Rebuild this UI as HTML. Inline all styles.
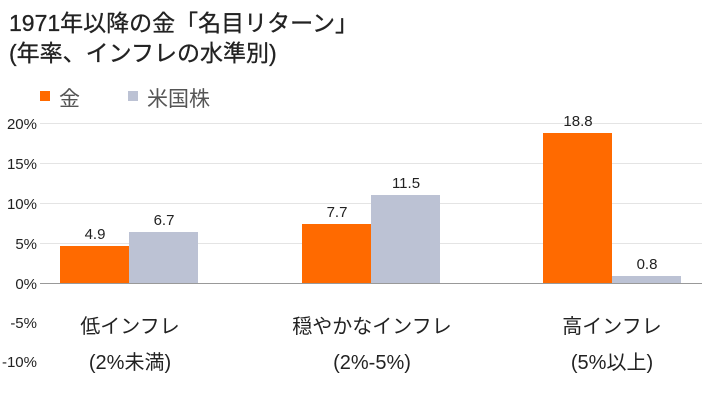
<!DOCTYPE html>
<html><head><meta charset="utf-8"><style>
body{margin:0;background:#fff;}
svg{display:block;font-family:"Liberation Sans","Noto Sans CJK JP",sans-serif;}
</style></head><body>
<svg width="702" height="408" viewBox="0 0 702 408" xmlns="http://www.w3.org/2000/svg">
<text x="9" y="31" font-size="23" fill="#222" stroke="#222" stroke-width="0.3">1971年以降の金「名目リターン」</text>
<text x="9" y="61" font-size="23" fill="#222" stroke="#222" stroke-width="0.3">(年率、インフレの水準別)</text>
<rect x="40" y="91" width="10" height="10" fill="#ff6a00"/>
<text x="59" y="106" font-size="21" fill="#555">金</text>
<rect x="128" y="91" width="10" height="10" fill="#bcc2d4"/>
<text x="147" y="106" font-size="21" fill="#555">米国株</text>
<g stroke="#e4e4e4" stroke-width="1">
<line x1="40" y1="123.5" x2="702" y2="123.5"/>
<line x1="40" y1="163.5" x2="702" y2="163.5"/>
<line x1="40" y1="203.5" x2="702" y2="203.5"/>
<line x1="40" y1="243.5" x2="702" y2="243.5"/>
</g>
<g font-size="15" fill="#222" text-anchor="end">
<text x="37" y="129">20%</text>
<text x="37" y="169">15%</text>
<text x="37" y="209">10%</text>
<text x="37" y="249">5%</text>
<text x="37" y="289">0%</text>
<text x="37" y="328">-5%</text>
<text x="37" y="367">-10%</text>
</g>
<rect x="60" y="246" width="69" height="37" fill="#ff6a00"/>
<rect x="129" y="232" width="69" height="51" fill="#bcc2d4"/>
<rect x="302" y="224" width="69" height="59" fill="#ff6a00"/>
<rect x="371" y="195" width="69" height="88" fill="#bcc2d4"/>
<rect x="543" y="133" width="69" height="150" fill="#ff6a00"/>
<rect x="612" y="276" width="69" height="7" fill="#bcc2d4"/>
<line x1="40" y1="283.5" x2="702" y2="283.5" stroke="#999" stroke-width="1"/>
<g font-size="15" fill="#222" text-anchor="middle">
<text x="95" y="239">4.9</text>
<text x="164" y="225">6.7</text>
<text x="337" y="217">7.7</text>
<text x="406" y="188">11.5</text>
<text x="578" y="126">18.8</text>
<text x="647" y="269">0.8</text>
</g>
<g font-size="20" fill="#222" text-anchor="middle">
<text x="130" y="333">低インフレ</text>
<text x="130" y="369">(2%未満)</text>
<text x="372" y="333">穏やかなインフレ</text>
<text x="372" y="369">(2%-5%)</text>
<text x="612" y="333">高インフレ</text>
<text x="612" y="369">(5%以上)</text>
</g>
</svg>
</body></html>
